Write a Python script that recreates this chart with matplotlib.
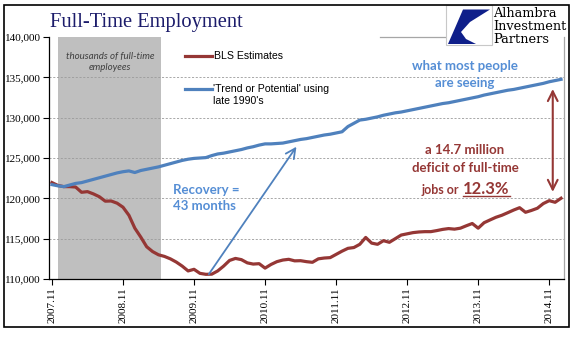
import matplotlib
matplotlib.use("Agg")
from matplotlib import pyplot as plt
from matplotlib.patches import Rectangle, Polygon
import numpy as np

# monthly data, Nov 2007 .. Jan 2015 (thousands of full-time employees)
bls_estimates = [
    121950, 121600, 121450, 121450, 121400, 120750, 120830, 120550, 120200, 119650,
    119670, 119400, 118900, 117900, 116300, 115200, 114000, 113400, 113000, 112800,
    112500, 112100, 111600, 111000, 111200, 110700, 110580, 110600, 111000, 111600,
    112300, 112550, 112400, 112000, 111850, 111900, 111350, 111800, 112150, 112350,
    112440, 112250, 112270, 112150, 112070, 112500, 112600, 112650, 113050, 113450,
    113800, 113900, 114300, 115150, 114450, 114300, 114750, 114550, 115000, 115450,
    115600, 115750, 115830, 115870, 115870, 116000, 116150, 116250, 116180, 116300,
    116600, 116880, 116300, 116980, 117320, 117650, 117900, 118220, 118550, 118840,
    118270, 118500, 118770, 119350, 119710, 119510, 120010,
]
trend_potential = [
    121700, 121550, 121450, 121650, 121850, 121950, 122150, 122350, 122550, 122750,
    122950, 123150, 123300, 123400, 123200, 123450, 123600, 123750, 123900, 124100,
    124300, 124500, 124700, 124850, 124950, 125000, 125050, 125300, 125500, 125600,
    125750, 125900, 126050, 126250, 126400, 126600, 126750, 126750, 126800, 126850,
    127000, 127150, 127300, 127400, 127550, 127700, 127850, 127950, 128100, 128250,
    128900, 129300, 129700, 129800, 129950, 130100, 130300, 130450, 130600, 130700,
    130850, 131000, 131150, 131300, 131450, 131600, 131750, 131850, 132000, 132150,
    132300, 132450, 132600, 132800, 132950, 133100, 133250, 133400, 133500, 133650,
    133800, 133950, 134100, 134250, 134450, 134600, 134750,
]
tick_labels = ["2007.11", "2008.11", "2009.11", "2010.11",
               "2011.11", "2012.11", "2013.11", "2014.11"]
y_ticks = [110000, 115000, 120000, 125000, 130000, 135000, 140000]
recession = (1, 18.5)          # Dec 2007 - Jun 2009, in months from start
recovery_arrow = ((26.5, 110600), (41.3, 126400))
gap_arrow = (84.6, 120800, 133550)

RED = "#953735"
BLUE = "#4F81BD"
TXT_BLUE = "#558ED5"
W, H = 577, 341

def fx(x):
    return x / W

def fy(y):
    return 1 - y / H

fig = plt.figure(figsize=(W / 100, H / 100), dpi=100)
ax = fig.add_axes([fx(49), fy(279), fx(564) - fx(49), fy(37) - fy(279)])

months = np.arange(len(bls_estimates))
ax.axvspan(recession[0], recession[1], color="#bfbfbf", lw=0, zorder=0)
ax.plot(months, bls_estimates, color=RED, lw=2.3, solid_joinstyle="round", zorder=3)
ax.plot(months, trend_potential, color=BLUE, lw=2.3, solid_joinstyle="round", zorder=3)

ax.set_xlim(-0.5, 86.5)
ax.set_ylim(110000, 140000)
ax.set_yticks(y_ticks)
ax.set_yticklabels([f"{v:,}" for v in y_ticks])
ax.set_xticks(np.arange(len(tick_labels)) * 12)
ax.set_xticklabels(tick_labels, rotation=90)
for lab in ax.get_xticklabels() + ax.get_yticklabels():
    lab.set_family("Liberation Serif")
    lab.set_fontsize(8)
ax.tick_params(axis="both", direction="out", length=4, width=0.8, color="black", pad=2)
for v in y_ticks[1:-1]:
    ax.axhline(v, color="#9a9a9a", lw=0.6, ls=(0, (2.5, 2)), zorder=1)

ax.spines["left"].set_color("black")
ax.spines["bottom"].set_color("black")
ax.spines["right"].set_color("#a6a6a6")
ax.spines["top"].set_visible(False)
for s in ax.spines.values():
    s.set_linewidth(0.9)

# arrows
ax.annotate("", xy=recovery_arrow[1], xytext=recovery_arrow[0],
            arrowprops=dict(arrowstyle="->,head_length=0.7,head_width=0.35",
                            color=BLUE, lw=1.3, shrinkA=0, shrinkB=0), zorder=4)
ax.annotate("", xy=(gap_arrow[0], gap_arrow[2]), xytext=(gap_arrow[0], gap_arrow[1]),
            arrowprops=dict(arrowstyle="<->,head_length=0.7,head_width=0.35",
                            color=RED, lw=1.5, shrinkA=0, shrinkB=0), zorder=4)

# shaded-box note
fig.text(fx(110), fy(56), "thousands of full-time", ha="center", va="center",
         fontsize=7, style="italic", family="Lato", color="#404040")
fig.text(fx(110), fy(67), "employees", ha="center", va="center",
         fontsize=7, style="italic", family="Lato", color="#404040")

# legend drawn by hand
fig.add_artist(plt.Line2D([fx(185), fx(212)], [fy(56), fy(56)], color=RED, lw=2.3))
fig.add_artist(plt.Line2D([fx(185), fx(212)], [fy(89), fy(89)], color=BLUE, lw=2.3))
fig.text(fx(214), fy(56), "BLS Estimates", va="center", fontsize=7.6,
         family="Liberation Sans")
fig.text(fx(213), fy(89), "'Trend or Potential' using", va="center", fontsize=7.6,
         family="Liberation Sans")
fig.text(fx(213), fy(100.5), "late 1990's", va="center", fontsize=7.6,
         family="Liberation Sans")

# annotations
bold = dict(family="Lato", fontweight="bold", va="center")
fig.text(fx(465), fy(66.5), "what most people", ha="center", fontsize=9.5,
         color=TXT_BLUE, **bold)
fig.text(fx(465), fy(83), "are seeing", ha="center", fontsize=9.5, color=TXT_BLUE, **bold)
fig.text(fx(173), fy(190), "Recovery =", ha="left", fontsize=9.5, color=TXT_BLUE, **bold)
fig.text(fx(173), fy(206), "43 months", ha="left", fontsize=9.5, color=TXT_BLUE, **bold)
fig.text(fx(465), fy(150), "a 14.7 million", ha="center", fontsize=9.5, color=RED, **bold)
fig.text(fx(465), fy(168), "deficit of full-time", ha="center", fontsize=9.5,
         color=RED, **bold)
fig.text(fx(459), fy(193.5), "jobs or", ha="right", va="baseline", fontsize=9,
         color=RED, family="Lato", fontweight="bold")
fig.text(fx(463), fy(193.5), "12.3%", ha="left", va="baseline", fontsize=12,
         color=RED, family="Lato", fontweight="bold")
fig.add_artist(plt.Line2D([fx(463), fx(510)], [fy(196), fy(196)], color=RED, lw=1))

# title
fig.text(fx(50), fy(27), "Full-Time Employment", ha="left", va="baseline",
         fontsize=14.8, family="Liberation Serif", color="#1c1c6b")

# plot-area top edge, visible only right of the legend
fig.add_artist(plt.Line2D([fx(380), fx(446)], [fy(36.5), fy(36.5)], color="#a6a6a6", lw=0.9))

# logo
fig.add_artist(Rectangle((fx(446), fy(45)), fx(46), 40 / H,
                         transform=fig.transFigure, facecolor="white",
                         edgecolor="#c8c8c8", lw=0.8, zorder=5))
logo_pts = [(463, 9.5), (490, 9.5), (470, 22), (461, 32), (466, 39), (476, 44),
            (448, 44), (455, 28)]
fig.add_artist(Polygon([(fx(x), fy(y)) for x, y in logo_pts], closed=True,
                       transform=fig.transFigure, facecolor="#0f1f8a",
                       edgecolor="none", zorder=6))
for i, word in enumerate(["Alhambra", "Investment", "Partners"]):
    fig.text(fx(493), fy(17 + 13 * i), word, ha="left", va="baseline",
             fontsize=9.3, family="DejaVu Serif", color="black", zorder=6)

# outer frame
fig.add_artist(Rectangle((fx(4), fy(327)), fx(565), 322 / H, transform=fig.transFigure,
                         fill=False, edgecolor="black", lw=1.2, zorder=10))

fig.savefig("out.png", dpi=100)
